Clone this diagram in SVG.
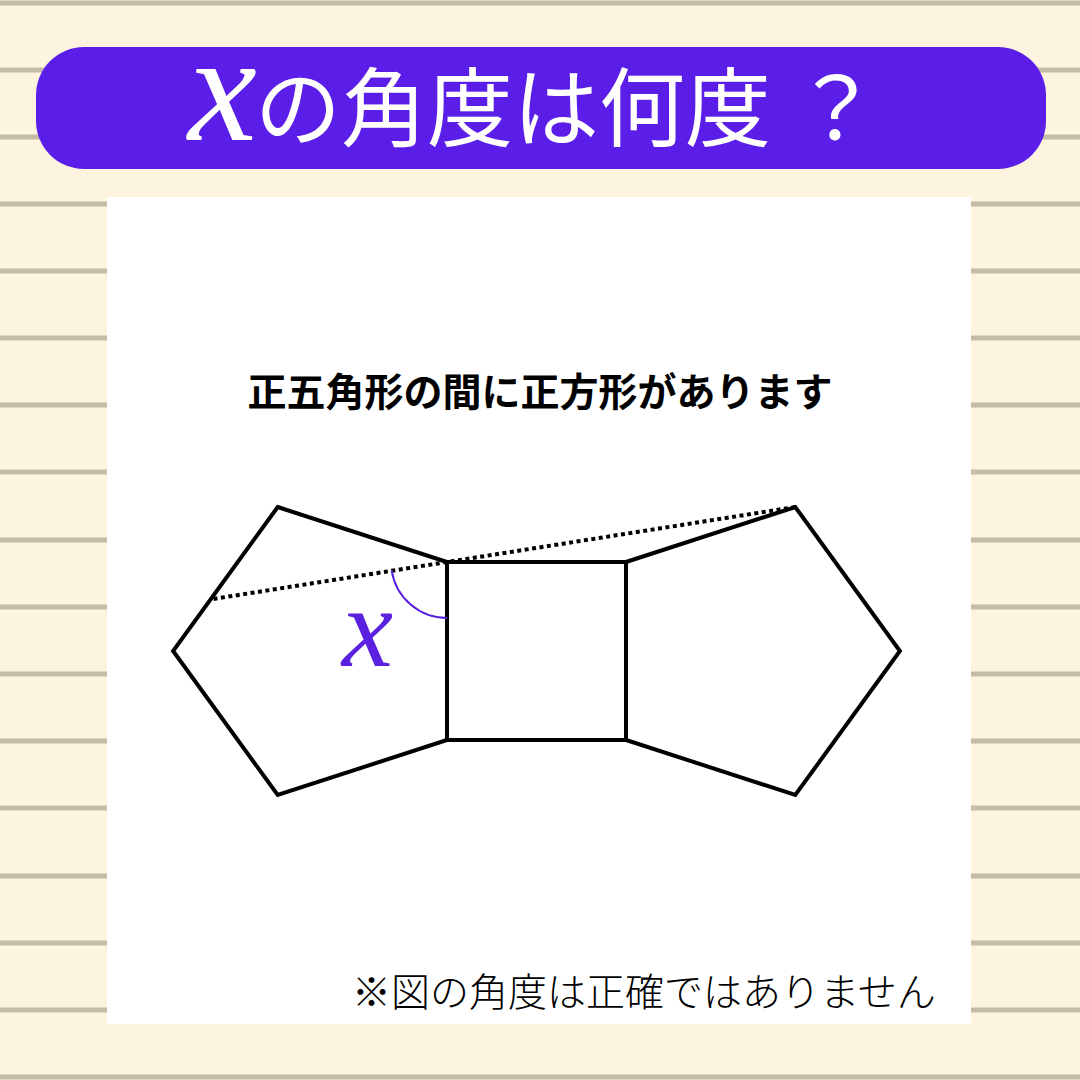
<svg xmlns="http://www.w3.org/2000/svg" width="1080" height="1080" viewBox="0 0 1080 1080">
  <style>
    .rule { stroke: #c4bba8; stroke-width: 5; }
    .shape { fill: none; stroke: #000; stroke-width: 4; stroke-linejoin: miter; }
    .jp { font-family: "Noto Sans CJK JP", "Noto Sans", sans-serif; }
  </style>
  <rect x="0" y="0" width="1080" height="1080" fill="#fdf4df"/>
  <g id="rules">
    <line class="rule" x1="0" y1="3" x2="1080" y2="3"/>
    <line class="rule" x1="0" y1="70" x2="1080" y2="70"/>
    <line class="rule" x1="0" y1="137" x2="1080" y2="137"/>
    <line class="rule" x1="0" y1="204" x2="1080" y2="204"/>
    <line class="rule" x1="0" y1="271" x2="1080" y2="271"/>
    <line class="rule" x1="0" y1="338" x2="1080" y2="338"/>
    <line class="rule" x1="0" y1="405" x2="1080" y2="405"/>
    <line class="rule" x1="0" y1="472" x2="1080" y2="472"/>
    <line class="rule" x1="0" y1="540" x2="1080" y2="540"/>
    <line class="rule" x1="0" y1="607" x2="1080" y2="607"/>
    <line class="rule" x1="0" y1="674" x2="1080" y2="674"/>
    <line class="rule" x1="0" y1="741" x2="1080" y2="741"/>
    <line class="rule" x1="0" y1="808" x2="1080" y2="808"/>
    <line class="rule" x1="0" y1="876" x2="1080" y2="876"/>
    <line class="rule" x1="0" y1="943" x2="1080" y2="943"/>
    <line class="rule" x1="0" y1="1010" x2="1080" y2="1010"/>
    <line class="rule" x1="0" y1="1077" x2="1080" y2="1077"/>
  </g>
  <rect id="panel" x="107" y="197" width="864" height="827" fill="#ffffff"/>
  <g id="title">
    <rect x="36" y="47" width="1010" height="122" rx="48" fill="#5b1ee8"/>
    <text x="188" y="140" font-family="Liberation Serif, serif" font-style="italic" font-size="155" fill="#ffffff">x</text>
    <text class="jp" x="255" y="140" font-size="86" font-weight="400" fill="#ffffff">の角度は何度<tspan x="793">？</tspan></text>
  </g>
  <text id="subtitle" class="jp" x="540" y="406" font-size="39" font-weight="700" text-anchor="middle" fill="#000">正五角形の間に正方形があります</text>
  <g id="left-pentagon">
    <polygon class="shape" points="277.7,507 447,562 447,740 277.7,795 173.1,651"/>
  </g>
  <g id="square">
    <rect class="shape" x="447" y="562" width="179" height="178"/>
  </g>
  <g id="right-pentagon">
    <polygon class="shape" points="626,562 795.3,507 899.9,651 795.3,795 626,740"/>
  </g>
  <g id="connectors">
    <line x1="795.3" y1="507" x2="210.5" y2="599.4" stroke="#000" stroke-width="4" stroke-dasharray="4 3.5"/>
    <path d="M 391.7 570.7 A 56 56 0 0 0 447 618" fill="none" stroke="#5b21e0" stroke-width="2"/>
  </g>
  <text id="x-label" x="342" y="666" font-family="Liberation Serif, serif" font-style="italic" font-size="115" fill="#5b21e0">x</text>
  <text id="note" class="jp" x="352" y="1006" font-size="39" font-weight="300" fill="#000">※図の角度は正確ではありません</text>
</svg>
